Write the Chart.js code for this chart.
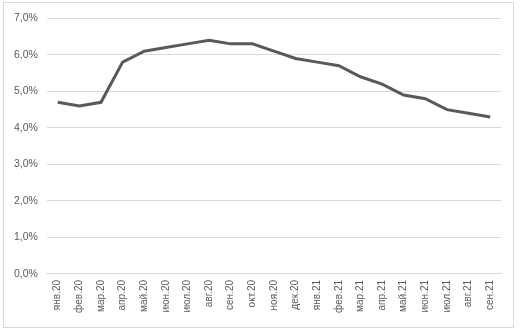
<!DOCTYPE html>
<html>
<head>
<meta charset="utf-8">
<script src="https://cdn.jsdelivr.net/npm/chart.js@4"></script>
<style>
    body { margin: 0; background: #fff; }
    .chart-box {
        position: absolute;
        left: 3px; top: 2px;
        width: 509px; height: 324px;
        border: 1px solid #d9d9d9;
    }
</style>
</head>
<body>
<div class="chart-box"><canvas id="chart" width="509" height="324"></canvas></div>
<script>
const months = ['янв.20', 'фев.20', 'мар.20', 'апр.20', 'май.20', 'июн.20', 'июл.20', 'авг.20', 'сен.20', 'окт.20',
    'ноя.20', 'дек.20', 'янв.21', 'фев.21', 'мар.21', 'апр.21', 'май.21', 'июн.21', 'июл.21', 'авг.21', 'сен.21'];
const rates = [4.7, 4.6, 4.7, 5.8, 6.1, 6.2, 6.3, 6.4, 6.3, 6.3,
    6.1, 5.9, 5.8, 5.7, 5.4, 5.2, 4.9, 4.8, 4.5, 4.4, 4.3];
const yTicks = [0, 1, 2, 3, 4, 5, 6, 7];

const textColor = '#595959';
const fontFamily = '"Liberation Sans", "Open Sans", sans-serif';

new Chart(document.getElementById('chart'), {
    type: 'line',
    data: {
        labels: months,
        datasets: [{
            data: rates,
            borderColor: '#595959',
            borderWidth: 3,
            pointRadius: 0,
            tension: 0,
            fill: false
        }]
    },
    options: {
        responsive: false,
        animation: false,
        layout: {padding: {left: 1, right: 12, top: 7, bottom: 8}},
        plugins: {legend: {display: false}, tooltip: {enabled: false}},
        scales: {
            x: {
                offset: true,
                grid: {display: false, drawTicks: false},
                border: {color: '#d9d9d9'},
                ticks: {
                    color: textColor,
                    font: {family: fontFamily, size: 10},
                    minRotation: 90,
                    maxRotation: 90,
                    autoSkip: false,
                    padding: 6
                }
            },
            y: {
                min: 0,
                max: 7,
                afterBuildTicks: axis => { axis.ticks = yTicks.map(v => ({value: v})); },
                grid: {color: '#d9d9d9', drawTicks: false},
                border: {display: false},
                ticks: {
                    color: textColor,
                    font: {family: fontFamily, size: 10.5},
                    padding: 9,
                    callback: v => v.toFixed(1).replace('.', ',') + '%'
                }
            }
        }
    }
});
</script>
</body>
</html>
